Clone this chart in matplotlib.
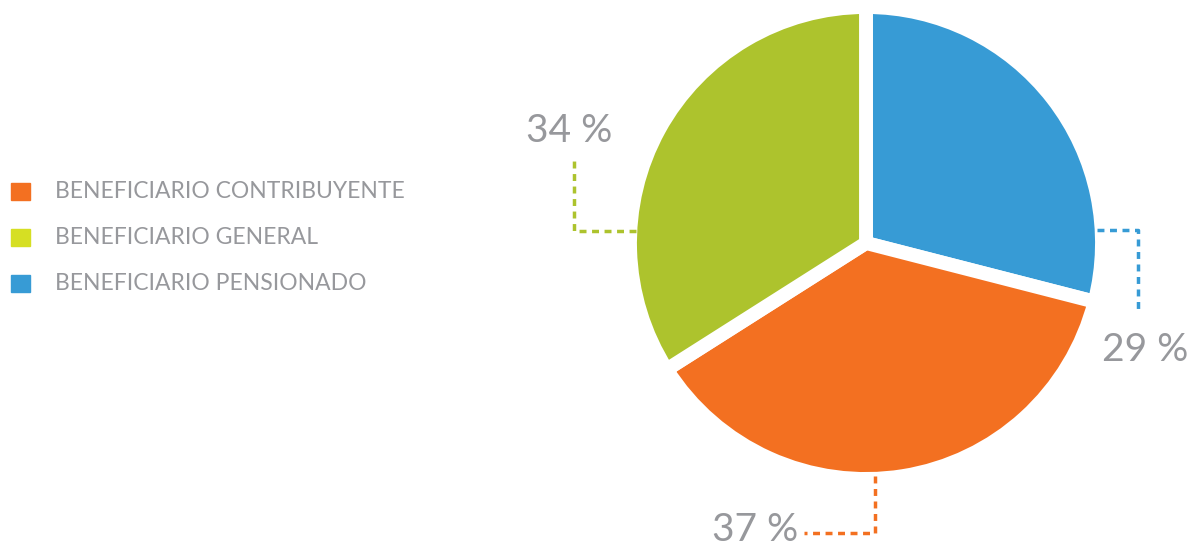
import matplotlib.pyplot as plt

labels = ['BENEFICIARIO CONTRIBUYENTE', 'BENEFICIARIO GENERAL', 'BENEFICIARIO PENSIONADO']
values = [37, 34, 29]
pie_colors = ['#f37021', '#adc32d', '#379bd5']
legend_colors = ['#f37021', '#d6df23', '#379bd5']
pct_labels = ['37 %', '34 %', '29 %']

W, H = 1195, 550
fig = plt.figure(figsize=(W / 100, H / 100), dpi=100)
ax = fig.add_axes([0, 0, 1, 1])

# pie drawn in pixel coords (y down), so order goes counterclockwise on screen -> reverse
cx, cy, r = 866, 243, 236
order = [2, 0, 1]  # blue, orange, green clockwise from top
ax.pie([values[i] for i in order], colors=[pie_colors[i] for i in order],
       startangle=-90, counterclock=True, center=(cx, cy), radius=r,
       wedgeprops=dict(edgecolor='white', linewidth=10), frame=True)
ax.set_xlim(0, W)
ax.set_ylim(H, 0)
ax.set_aspect('equal')
ax.axis('off')

text_color = '#97989c'
dash = dict(linestyle=(0, (2, 1.6)), linewidth=2.5)

# leader lines
ax.plot([1097, 1138, 1138], [230, 230, 311], color=pie_colors[2], **dash)
ax.plot([636, 574, 574], [231, 231, 161], color=pie_colors[1], **dash)
ax.plot([875, 875, 804], [476, 533, 533], color=pie_colors[0], **dash)

ax.text(1145, 350, pct_labels[2], color=text_color, fontsize=28, family='Lato',
        ha='center', va='center')
ax.text(569, 131, pct_labels[1], color=text_color, fontsize=28, family='Lato',
        ha='center', va='center')
ax.text(755, 530, pct_labels[0], color=text_color, fontsize=28, family='Lato',
        ha='center', va='center')

# legend
for i, (lab, col) in enumerate(zip(labels, legend_colors)):
    y = 191 + i * 46
    ax.add_patch(plt.Rectangle((11, y - 8.5), 19, 17, color=col))
    ax.text(55, y, lab, color=text_color, fontsize=16.5, family='Lato',
            ha='left', va='center')

fig.savefig('out.png', dpi=100, facecolor='white')
